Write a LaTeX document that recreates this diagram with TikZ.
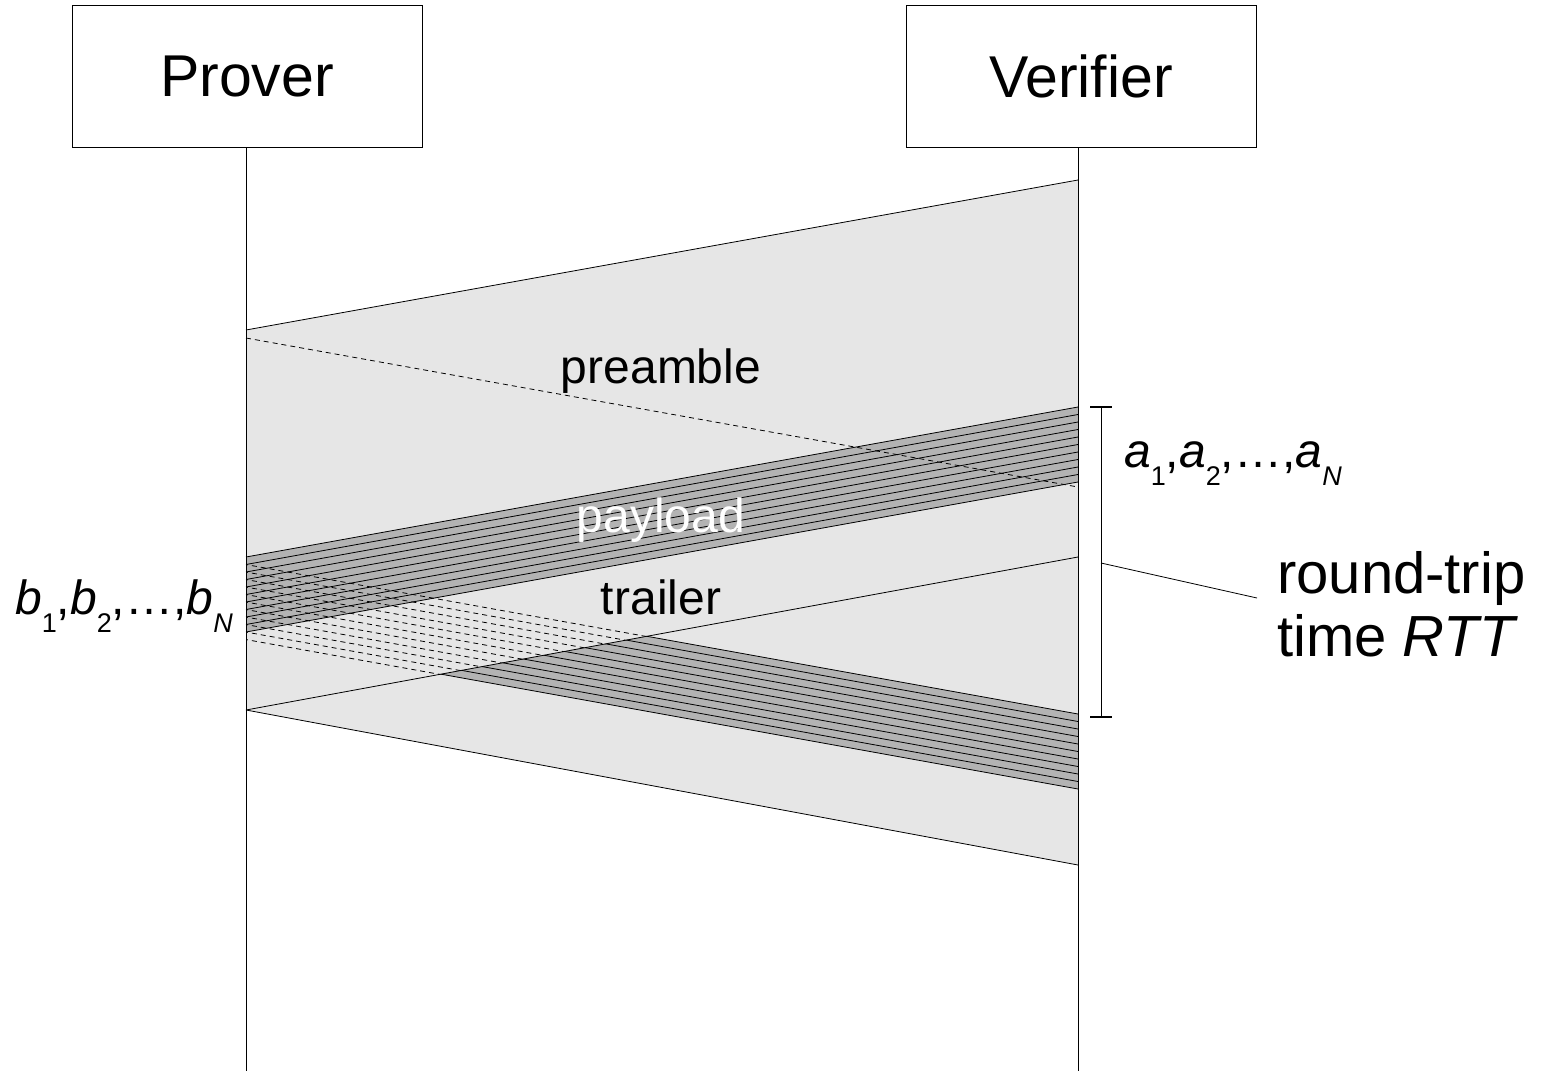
\documentclass[tikz,border=0pt]{standalone}
\usepackage{fontspec}
\setmainfont{Liberation Sans}
\definecolor{lightfill}{HTML}{E6E6E6}
\definecolor{darkfill}{HTML}{B3B3B3}
\newcommand\sbx[1]{\raisebox{-0.38em}{\fontsize{27}{27}\selectfont #1}}
\tikzset{
  actor/.style={draw, line width=0.8pt, minimum width=350pt, minimum height=142pt, inner sep=0pt, font=\fontsize{59}{62}\selectfont},
  life/.style={line width=0.8pt},
  msg/.style={line width=0.8pt},
  dmsg/.style={line width=0.8pt, dash pattern=on 5pt off 4pt},
  lbl/.style={font=\fontsize{48}{52}\selectfont, inner sep=0pt},
  big/.style={font=\fontsize{58}{63}\selectfont, inner sep=0pt, align=left},
}
\begin{document}
\begin{tikzpicture}[x=1pt,y=-1pt]
\useasboundingbox (0,0) rectangle (1542,1071);
\fill[white] (0,0) rectangle (1542,1071);
\node[actor] (P) at (247,76) {Prover};
\node[actor] (V) at (1081,76) {Verifier};
\coordinate (Pb) at (246,1071);
\coordinate (Vb) at (1078,1071);
% light region
\fill[lightfill] (246,330) -- (1078,180) -- (1078,865) -- (246,710) -- cycle;
% band A
\fill[darkfill] (246,557) -- (1078,407) -- (1078,482) -- (246,632) -- cycle;
% band B, solid part below trailer line
\begin{scope}
  \clip (246,710) -- (1078,557) -- (1078,1000) -- (246,1000) -- cycle;
  \fill[darkfill] (246,564) -- (1078,714) -- (1078,789) -- (246,639) -- cycle;
  \foreach \k in {0,...,10} \draw[msg] (246,564+7.5*\k) -- (1078,714+7.5*\k);
\end{scope}
\foreach \k in {0,...,10} \draw[msg] (246,557+7.5*\k) -- (1078,407+7.5*\k);
% band B, dashed part above trailer line
\begin{scope}
  \clip (246,710) -- (1078,557) -- (1078,0) -- (246,0) -- cycle;
  \foreach \k in {0,...,10} \draw[dmsg] (243,564+7.5*\k) -- (1078,714+7.5*\k);
\end{scope}
% outlines
\draw[msg] (246,330) -- (1078,180);
\draw[msg] (246,710) -- (1078,865);
\draw[msg] (246,710) -- (1078,557);
\draw[dmsg] (246,338) -- (1078,487);
% lifelines
\draw[life] (P.south -| Pb) -- (Pb);
\draw[life] (V.south -| Vb) -- (Vb);
% labels
\node[lbl] (pre) at (661,371) {preamble};
\node[lbl, text=white] (pay) at (661,520) {payload};
\node[lbl] (tra) at (661,597) {trailer};
\node[lbl, anchor=base west] (alab) at (1124,467) {\textit{a}\sbx{1},\textit{a}\sbx{2},…,\textit{a}\sbx{\textit{N}}};
\node[lbl, anchor=base east] (blab) at (233,614) {\textit{b}\sbx{1},\textit{b}\sbx{2},…,\textit{b}\sbx{\textit{N}}};
% RTT bracket
\coordinate (brtop) at (1101,407);
\coordinate (brbot) at (1101,717);
\coordinate (brmid) at (1101,563);
\coordinate (rttend) at (1257,598);
\draw[msg] (brtop) -- (brbot);
\draw[line width=2pt] ([xshift=-11pt]brtop) -- ([xshift=11pt]brtop);
\draw[line width=2pt] ([xshift=-11pt]brbot) -- ([xshift=11pt]brbot);
\draw[msg] (brmid) -- (rttend);
\node[big, anchor=west] (rtt) at (1277,604) {round-trip\\time \textit{RTT}};
\end{tikzpicture}
\end{document}
